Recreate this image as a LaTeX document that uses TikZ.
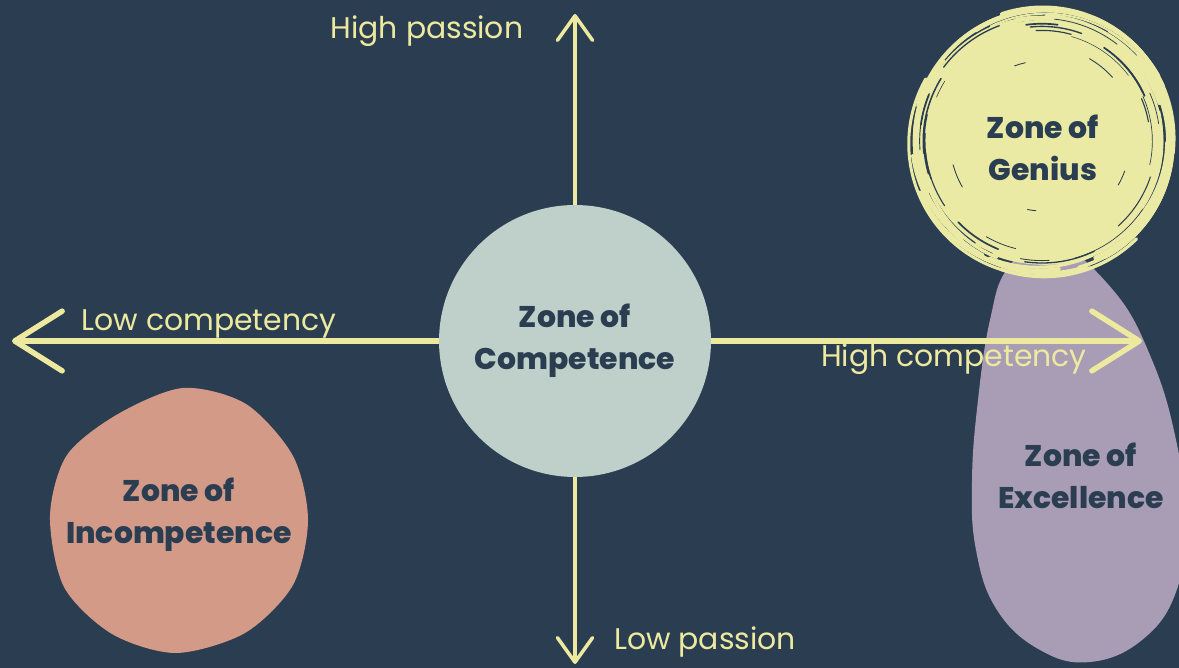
\documentclass[tikz,border=0pt]{standalone}
\usepackage{fontspec}
\setmainfont{Poppins}
\newfontfamily\zonefont{Poppins ExtraBold}
\usepackage{xcolor}
\usepackage{tikz}
\usetikzlibrary{arrows.meta}

\definecolor{navy}{HTML}{2B3E51}
\definecolor{cream}{HTML}{EDEAA0}
\definecolor{sage}{HTML}{BFCFCA}
\definecolor{salmon}{HTML}{D39A87}
\definecolor{lilac}{HTML}{A89DB4}
\definecolor{lemon}{HTML}{EBEAA5}

\begin{document}
\begin{tikzpicture}[
  x=0.02cm, y=-0.02cm,
  zone/.style={font=\zonefont\fontsize{17}{24}\selectfont, text=navy, align=center},
  axlabel/.style={font=\fontsize{17}{20}\selectfont, text=cream},
  haxis/.style={cream, line width=3.1pt, -{Straight Barb[length=27pt,width=34pt,round]}},
  vaxis/.style={cream, line width=2pt, -{Straight Barb[length=14pt,width=20pt,round]}},
  ring/.style={lemon, line width=#1, line cap=round},
  streak/.style={navy, line width=#1, line cap=round}
]
  % background
  \fill[navy] (0,0) rectangle (1179,668);
  \clip (0,0) rectangle (1179,668);

  % excellence blob (sits under the genius circle)
  \fill[lilac] plot[smooth cycle, tension=0.7] coordinates {
    (1050,240) (1113,290) (1152,360) (1176,440) (1186,520) (1176,592)
    (1142,640) (1090,662) (1040,650) (997,610) (976,550) (972,480)
    (978,400) (990,320) (1008,268)};

  % genius circle with a brushed edge
  \begin{scope}[shift={(1042,141)}]
    \fill[lemon] (0,0) circle[radius=121];
    \pgfmathsetseed{4711}
    \foreach \i in {1,...,46}{
      \pgfmathsetmacro\a{360*rnd}
      \pgfmathsetmacro\b{\a+35+90*rnd}
      \pgfmathsetmacro\r{117+15*rnd}
      \pgfmathsetmacro\w{0.6+2.4*rnd}
      \pgfmathsetmacro\dx{8*rnd-4}
      \pgfmathsetmacro\dy{8*rnd-4}
      \draw[ring=\w pt, shift={(\dx,\dy)}] (\a:\r) arc[start angle=\a, end angle=\b, radius=\r];
    }
    \foreach \i in {1,...,24}{
      \pgfmathsetmacro\a{360*rnd}
      \pgfmathsetmacro\b{\a+8+36*rnd}
      \pgfmathsetmacro\r{108+16*rnd}
      \pgfmathsetmacro\w{0.25+0.8*rnd}
      \draw[streak=\w pt] (\a:\r) arc[start angle=\a, end angle=\b, radius=\r];
    }
    % a few marks further in
    \foreach \a/\b/\r in {150/165/92, 250/258/80, 300/318/95, 20/30/88, 95/102/70}
      \draw[streak=0.5pt] (\a:\r) arc[start angle=\a, end angle=\b, radius=\r];
  \end{scope}
  \node[zone] (genius) at (1043,148) {Zone of\\Genius};

  % incompetence blob
  \fill[salmon] plot[smooth cycle] coordinates {
    (308,520) (293,585) (245,633) (176,653) (112,634) (64,587)
    (50,516) (67,455) (118,414) (183,388) (246,404) (293,456)};
  \node[zone] (incomp) at (179,515) {Zone of\\Incompetence};

  \node[zone] (excel) at (1081,476) {Zone of\\Excellence};

  % centre and axes
  \node[circle, fill=sage, minimum size=5.44cm, inner sep=0pt, zone] (comp) at (575,341) {Zone of\\Competence};

  \coordinate (lo-comp) at (12,341);
  \coordinate (hi-comp) at (1142,341);
  \coordinate (hi-pass) at (575,14);
  \coordinate (lo-pass) at (575,664);

  \draw[haxis] (comp) -- (lo-comp);
  \draw[haxis] (comp) -- (hi-comp);
  \draw[vaxis] (comp) -- (hi-pass);
  \draw[vaxis] (comp) -- (lo-pass);

  \node[axlabel] (t-hipass) at (427,31) {High passion};
  \node[axlabel] (t-locomp) at (209,324) {Low competency};
  \node[axlabel] (t-hicomp) at (954,359) {High competency};
  \node[axlabel] (t-lopass) at (705,642) {Low passion};
\end{tikzpicture}
\end{document}
